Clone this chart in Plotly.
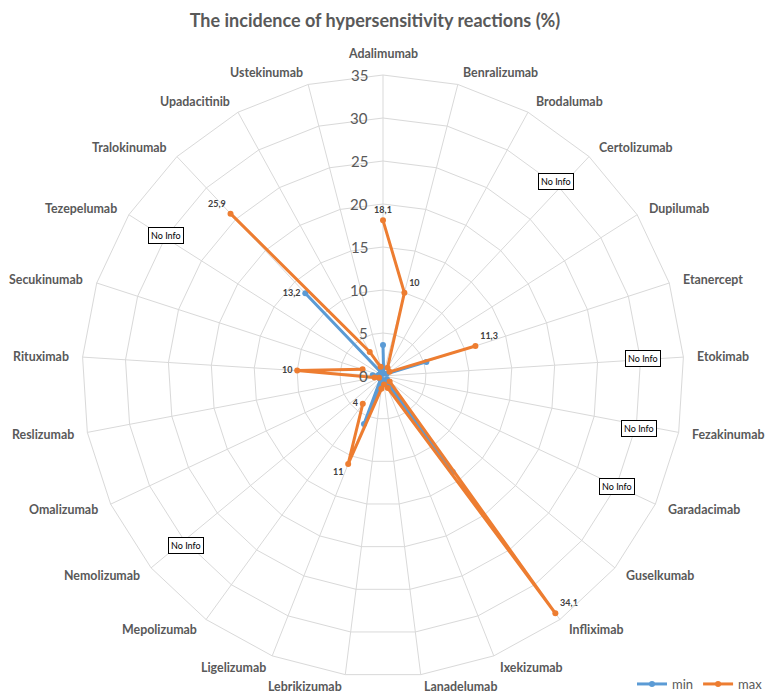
import math
import plotly.graph_objects as go

# Categories, clockwise from the top
drugs = ["Adalimumab", "Benralizumab", "Brodalumab", "Certolizumab", "Dupilumab",
         "Etanercept", "Etokimab", "Fezakinumab", "Garadacimab", "Guselkumab",
         "Infliximab", "Ixekizumab", "Lanadelumab", "Lebrikizumab", "Ligelizumab",
         "Mepolizumab", "Nemolizumab", "Omalizumab", "Reslizumab", "Rituximab",
         "Secukinumab", "Tezepelumab", "Tralokinumab", "Upadacitinib", "Ustekinumab"]

# incidence (%), None = no data (gap)
min_vals = [3.6, 0.3, None, None, 0.5, 5.3, None, None, None, 0.6,
            13.8, 0.8, 0.5, 0.8, 6.0, 0.5, None, 0.3, 0.5, 1.2,
            0.5, None, 13.2, 0.5, 0.5]
max_vals = [18.1, 10, 1.1, None, 0.9, 11.3, None, None, None, 1.0,
            34.1, 1.5, 1.0, 1.5, 11, 4, None, 0.5, 1.0, 10,
            2.5, None, 25.9, 3.2, 1.1]

# values that carry a data label in the original
max_labels = ["18,1", "10", "", "", "", "11,3", "", "", "", "",
              "34,1", "", "", "", "11", "4", "", "", "", "10",
              "", "", "25,9", "", ""]
min_labels = ["", "", "", "", "", "", "", "", "", "",
              "", "", "", "", "", "", "", "", "", "",
              "", "", "13,2", "", ""]
max_label_pos = ["top center", "top right", "top center", "top center", "top center",
                 "top right", "top center", "top center", "top center", "top center",
                 "top right", "top center", "top center", "top center", "bottom left",
                 "middle left", "top center", "top center", "top center", "middle left",
                 "top center", "top center", "top left", "top center", "top center"]

# radial scale labels
r_ticks = [0, 5, 10, 15, 20, 25, 30, 35]

no_info = ["Certolizumab", "Etokimab", "Fezakinumab", "Garadacimab",
           "Nemolizumab", "Tezepelumab"]

BLUE = "#5B9BD5"
ORANGE = "#ED7D31"
GRID = "#D9D9D9"
TXT = "#595959"
FONT = "Lato"
RMAX = 35

W, H = 773, 695
PLOT = 602  # side of the square polar domain, px

fig = go.Figure()
fig.add_trace(go.Scatterpolar(
    r=min_vals, theta=drugs, name="min", mode="lines+markers+text",
    text=min_labels, textposition="middle left",
    textfont=dict(family=FONT, size=9, color="#404040", weight="bold"),
    line=dict(color=BLUE, width=3), marker=dict(size=6, color=BLUE),
    connectgaps=False, cliponaxis=False
))
fig.add_trace(go.Scatterpolar(
    r=max_vals, theta=drugs, name="max", mode="lines+markers+text",
    text=max_labels, textposition=max_label_pos,
    textfont=dict(family=FONT, size=9, color="#404040", weight="bold"),
    line=dict(color=ORANGE, width=3), marker=dict(size=6, color=ORANGE),
    connectgaps=False, cliponaxis=False
))

annotations = []
step = 360 / len(drugs)

# radial scale numbers, just left of the top spoke
for v in r_ticks:
    annotations.append(dict(
        x=0.5 - 13 / PLOT, y=0.5 + v / RMAX * 0.5, xref="paper", yref="paper",
        text=str(v), showarrow=False, xanchor="right", yanchor="middle",
        font=dict(family=FONT, size=15, color=TXT)
    ))

# category names, Excel style: just outside each spoke,
# left-aligned on the right half, right-aligned on the left half
for i, name in enumerate(drugs):
    ang = math.radians(90 - step * i)
    frac = 36.4 / RMAX * 0.5
    c, s = math.cos(ang), math.sin(ang)
    xa = "center" if abs(c) < 0.01 else ("left" if c > 0 else "right")
    ya = "bottom" if s > 0.99 else "middle"
    annotations.append(dict(
        x=0.5 + frac * c, y=0.5 + frac * s, xref="paper", yref="paper",
        text=f"<b>{name}</b>", showarrow=False, xanchor=xa, yanchor=ya,
        font=dict(family=FONT, size=12.4, color=TXT)
    ))

# "No Info" boxes sit along each empty axis at about r = 32.4
for name in no_info:
    ang = math.radians(90 - step * drugs.index(name))
    frac = 32.4 / RMAX * 0.5
    annotations.append(dict(
        x=0.5 + frac * math.cos(ang), y=0.5 + frac * math.sin(ang),
        xref="paper", yref="paper", text="No Info", showarrow=False,
        font=dict(family=FONT, size=9, color="#000000"),
        bordercolor="#000000", borderwidth=1, borderpad=2, bgcolor="white"
    ))

fig.update_layout(
    width=W, height=H,
    margin=dict(l=74, r=97, t=67, b=26, autoexpand=False),
    paper_bgcolor="white",
    title=dict(text="<b>The incidence of hypersensitivity reactions (%)</b>",
               x=(367 - 74) / PLOT, xref="paper", xanchor="center",
               y=1 - 13 / H, yref="container", yanchor="middle",
               font=dict(family=FONT, size=18, color=TXT)),
    polar=dict(
        bgcolor="white",
        gridshape="linear",
        angularaxis=dict(direction="clockwise", rotation=90, type="category",
                         categoryorder="array", categoryarray=drugs,
                         showticklabels=False, ticks="",
                         linecolor=GRID, gridcolor=GRID, showline=True),
        radialaxis=dict(range=[0, RMAX], dtick=5, angle=90,
                        showticklabels=False, showline=False,
                        gridcolor=GRID, ticks=""),
    ),
    showlegend=True,
    legend=dict(orientation="h", x=624 / W, xref="container", xanchor="left",
                y=1 - 676 / H, yref="container", yanchor="middle",
                font=dict(family=FONT, size=13, color=TXT)),
    annotations=annotations,
)

fig.write_html("out.html")
